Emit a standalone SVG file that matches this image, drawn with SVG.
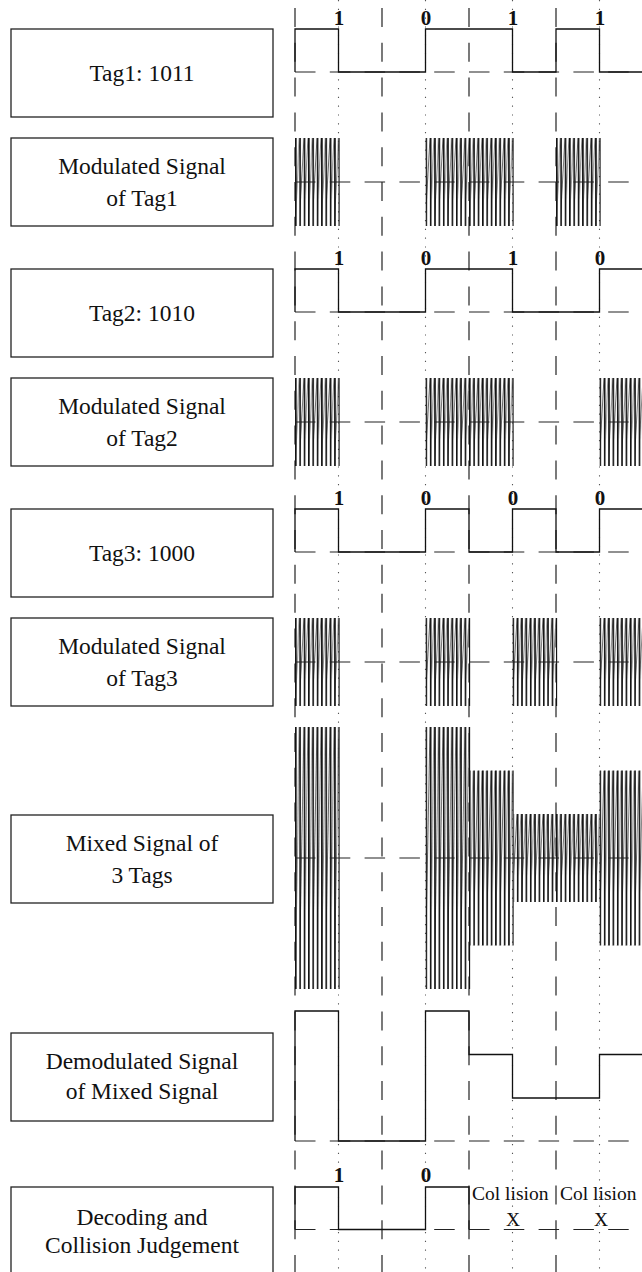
<svg xmlns="http://www.w3.org/2000/svg" width="642" height="1272" viewBox="0 0 642 1272">
<style>
.box{fill:#fff;stroke:#222;stroke-width:1.3}
.lbl{font-family:"Liberation Serif","Times New Roman",serif;font-size:23.5px;fill:#111;text-anchor:middle}
.bit{font-family:"Liberation Serif","Times New Roman",serif;font-size:21px;font-weight:bold;fill:#111;text-anchor:middle}
.col{font-family:"Liberation Serif","Times New Roman",serif;font-size:19.5px;fill:#111}
.vd{stroke:#222;stroke-width:1.2;stroke-dasharray:19 15.8;fill:none}
.vdot{stroke:#555;stroke-width:1.1;stroke-dasharray:1.2 7.6;fill:none}
.hd{stroke:#222;stroke-width:1.2;stroke-dasharray:20.5 14.3;fill:none}
.sig{stroke:#111;stroke-width:1.3;fill:none}
</style>
<defs>
<pattern id="c1" patternUnits="userSpaceOnUse" x="295" y="0" width="4.35" height="88">
<path d="M0,88L4.35,0" stroke="#666" stroke-width="0.9"/>
<path d="M0.8,0V88" stroke="#111" stroke-width="1.6"/>
</pattern>
<pattern id="c2" patternUnits="userSpaceOnUse" x="295" y="0" width="4.35" height="175">
<path d="M0,175L4.35,0" stroke="#666" stroke-width="0.9"/>
<path d="M0.8,0V175" stroke="#111" stroke-width="1.6"/>
</pattern>
<pattern id="c3" patternUnits="userSpaceOnUse" x="295" y="0" width="4.35" height="262">
<path d="M0,262L4.35,0" stroke="#666" stroke-width="0.9"/>
<path d="M0.8,0V262" stroke="#111" stroke-width="1.6"/>
</pattern>
</defs>

<g id="grid">
<line class="vdot" x1="338.5" y1="0" x2="338.5" y2="1272"/>
<line class="vdot" x1="425.5" y1="0" x2="425.5" y2="1272"/>
<line class="vdot" x1="512.5" y1="0" x2="512.5" y2="1272"/>
<line class="vdot" x1="599.5" y1="0" x2="599.5" y2="1272"/>
<line class="vd" x1="295" y1="8" x2="295" y2="585"/>
<line class="vd" x1="382" y1="8" x2="382" y2="585"/>
<line class="vd" x1="469" y1="8" x2="469" y2="585"/>
<line class="vd" x1="556" y1="8" x2="556" y2="585"/>
<line class="vd" x1="295" y1="593.8" x2="295" y2="1272"/>
<line class="vd" x1="382" y1="593.8" x2="382" y2="1272"/>
<line class="vd" x1="469" y1="593.8" x2="469" y2="1272"/>
<line class="vd" x1="556" y1="593.8" x2="556" y2="1272"/>
</g>

<g id="labels">
<g id="box-tag1"><rect class="box" x="11" y="29" width="262" height="88"/><text class="lbl" x="142" y="81">Tag1: 1011</text></g>
<g id="box-mod1"><rect class="box" x="11" y="138" width="262" height="88"/><text class="lbl" x="142" y="174">Modulated Signal</text><text class="lbl" x="142" y="206">of Tag1</text></g>
<g id="box-tag2"><rect class="box" x="11" y="269" width="262" height="88"/><text class="lbl" x="142" y="321">Tag2: 1010</text></g>
<g id="box-mod2"><rect class="box" x="11" y="378" width="262" height="88"/><text class="lbl" x="142" y="414">Modulated Signal</text><text class="lbl" x="142" y="446">of Tag2</text></g>
<g id="box-tag3"><rect class="box" x="11" y="509" width="262" height="88"/><text class="lbl" x="142" y="561">Tag3: 1000</text></g>
<g id="box-mod3"><rect class="box" x="11" y="618" width="262" height="88"/><text class="lbl" x="142" y="654">Modulated Signal</text><text class="lbl" x="142" y="686">of Tag3</text></g>
<g id="box-mixed"><rect class="box" x="11" y="815" width="262" height="88"/><text class="lbl" x="142" y="851">Mixed Signal of</text><text class="lbl" x="142" y="883">3 Tags</text></g>
<g id="box-demod"><rect class="box" x="11" y="1033" width="262" height="88"/><text class="lbl" x="142" y="1069">Demodulated Signal</text><text class="lbl" x="142" y="1099">of Mixed Signal</text></g>
<g id="box-decode"><rect class="box" x="11" y="1187" width="262" height="90"/><text class="lbl" x="142" y="1225">Decoding and</text><text class="lbl" x="142" y="1253">Collision Judgement</text></g>
</g>

<g id="carriers">
<g transform="translate(0,138)">
<rect x="295" y="0" width="44.7" height="88" fill="url(#c1)"/>
<rect x="425.5" y="0" width="88.2" height="88" fill="url(#c1)"/>
<rect x="556" y="0" width="44.7" height="88" fill="url(#c1)"/>
</g>
<g transform="translate(0,378)">
<rect x="295" y="0" width="44.7" height="88" fill="url(#c1)"/>
<rect x="425.5" y="0" width="88.2" height="88" fill="url(#c1)"/>
<rect x="599.5" y="0" width="43" height="88" fill="url(#c1)"/>
</g>
<g transform="translate(0,618)">
<rect x="295" y="0" width="44.7" height="88" fill="url(#c1)"/>
<rect x="425.5" y="0" width="44.7" height="88" fill="url(#c1)"/>
<rect x="512.5" y="0" width="44.7" height="88" fill="url(#c1)"/>
<rect x="599.5" y="0" width="43" height="88" fill="url(#c1)"/>
</g>
<g transform="translate(0,727)">
<rect x="295" y="0" width="44.7" height="262" fill="url(#c3)"/>
<rect x="425.5" y="0" width="44.7" height="262" fill="url(#c3)"/>
</g>
<g transform="translate(0,770.5)">
<rect x="470.2" y="0" width="43.5" height="175" fill="url(#c2)"/>
<rect x="599.5" y="0" width="43" height="175" fill="url(#c2)"/>
</g>
<g transform="translate(0,814)">
<rect x="513.7" y="0" width="85.8" height="88" fill="url(#c1)"/>
</g>
</g>

<g id="baselines">
<line class="hd" x1="295" y1="72" x2="642" y2="72"/>
<line class="hd" x1="295" y1="182" x2="642" y2="182"/>
<line class="hd" x1="295" y1="312" x2="642" y2="312"/>
<line class="hd" x1="295" y1="422" x2="642" y2="422"/>
<line class="hd" x1="295" y1="552" x2="642" y2="552"/>
<line class="hd" x1="295" y1="662" x2="642" y2="662"/>
<line class="hd" x1="295" y1="858" x2="642" y2="858"/>
<line class="hd" x1="295" y1="1141" x2="642" y2="1141"/>
<line class="hd" x1="295" y1="1229.5" x2="642" y2="1229.5"/>
</g>

<g id="signals">
<path id="sig-tag1" class="sig" d="M295,72V29H338.5V72H425.5V29H512.5V72H556V29H599.5V72H642"/>
<path id="sig-tag2" class="sig" d="M295,312V269H338.5V312H425.5V269H512.5V312H599.5V269H642"/>
<path id="sig-tag3" class="sig" d="M295,552V509H338.5V552H425.5V509H469V552H512.5V509H556V552H599.5V509H642"/>
<path id="sig-demod" class="sig" d="M295,1141V1011H338.5V1141H425.5V1011H469V1054.5H512.5V1098H599.5V1054.5H642"/>
<path id="sig-decode" class="sig" d="M295,1229.5V1187H338.5V1229.5H425.5V1187H469V1229.5"/>
</g>

<g id="bit-labels">
<text class="bit" x="339" y="25">1</text>
<text class="bit" x="426" y="25">0</text>
<text class="bit" x="513" y="25">1</text>
<text class="bit" x="600" y="25">1</text>
<text class="bit" x="339" y="265">1</text>
<text class="bit" x="426" y="265">0</text>
<text class="bit" x="513" y="265">1</text>
<text class="bit" x="600" y="265">0</text>
<text class="bit" x="339" y="505">1</text>
<text class="bit" x="426" y="505">0</text>
<text class="bit" x="513" y="505">0</text>
<text class="bit" x="600" y="505">0</text>
<text class="bit" x="339" y="1182">1</text>
<text class="bit" x="426" y="1182">0</text>
<text class="col" x="472" y="1200">Col lision</text>
<text class="col" x="560" y="1200">Col lision</text>
<text class="col" x="513" y="1226" text-anchor="middle">X</text>
<text class="col" x="601" y="1226" text-anchor="middle">X</text>
</g>
</svg>
